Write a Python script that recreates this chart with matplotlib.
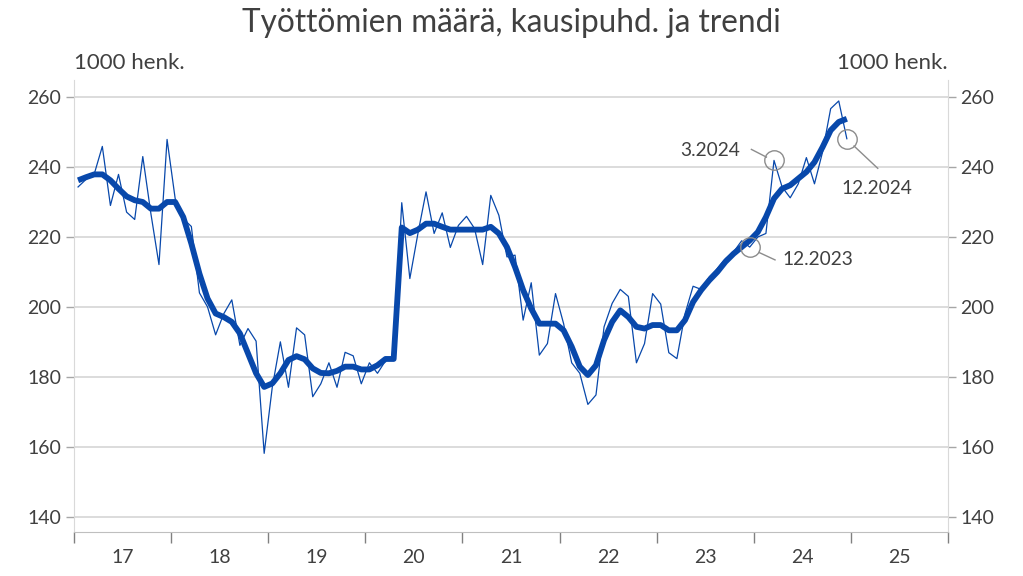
import numpy as np
import matplotlib
matplotlib.use("Agg")
import matplotlib.pyplot as plt
import matplotlib.transforms as mtransforms

plt.rcParams['font.family'] = ['Lato', 'DejaVu Sans']

# Kuukausiaineisto 1.2017 - 12.2024 (1000 henk.)
start_year = 2017
kausipuhd = [234.3, 236.5, 238.0, 245.9, 229.0, 237.9, 227.1, 225.0, 243.0, 226.7, 212.1, 247.9,
             231.0, 225.2, 223.0, 204.0, 200.0, 192.0, 198.0, 202.0, 189.0, 193.8, 190.2, 158.1,
             177.0, 190.0, 177.0, 194.0, 192.0, 174.3, 178.0, 184.0, 177.0, 187.0, 186.0, 178.0,
             184.0, 181.0, 184.6, 185.6, 229.8, 208.1, 221.0, 232.9, 221.0, 226.9, 217.0, 223.3,
             225.9, 222.4, 212.1, 231.9, 226.2, 214.3, 214.8, 196.2, 206.9, 186.2, 189.5, 203.8,
             195.2, 184.0, 181.0, 172.1, 174.8, 194.3, 201.0, 205.0, 203.0, 184.0, 189.5, 203.8,
             200.8, 186.9, 185.2, 198.0, 205.9, 205.0, 208.6, 211.0, 213.8, 215.7, 218.9, 217.1,
             220.0, 221.0, 241.9, 234.3, 231.2, 235.2, 242.7, 235.2, 244.3, 256.7, 258.9, 248.1]
trendi = [236.2, 237.1, 237.9, 237.9, 236.2, 233.8, 231.6, 230.5, 230.0, 228.1, 228.1, 230.0,
          230.0, 225.7, 218.1, 209.5, 202.4, 198.1, 197.1, 195.7, 192.4, 186.7, 181.0, 177.1,
          178.1, 181.0, 184.8, 185.9, 185.0, 182.4, 181.1, 181.0, 181.7, 182.9, 182.9, 182.1,
          182.1, 183.3, 185.1, 185.1, 222.7, 221.1, 222.1, 223.8, 223.8, 222.9, 222.1, 222.1,
          222.1, 222.1, 222.1, 222.9, 221.0, 217.1, 211.4, 204.8, 199.5, 195.2, 195.2, 195.2,
          193.3, 188.6, 182.9, 180.5, 183.3, 190.5, 195.7, 199.0, 197.1, 194.3, 193.8, 194.8,
          194.8, 193.3, 193.3, 196.2, 201.4, 204.8, 207.6, 210.0, 212.9, 215.2, 217.1, 219.0,
          221.4, 225.7, 231.0, 233.8, 234.8, 236.7, 238.6, 241.4, 245.7, 250.5, 252.9, 253.8]
year_labels = ['17', '18', '19', '20', '21', '22', '23', '24', '25']

# huomiot: (kuukauden indeksi, teksti, viivan alku, viivan loppu, tekstin paikka, tasaus) pikseleinä
huomiot = [(83, '12.2023', (9.6, -5.5), (25.3, -12.8), (32.6, -12.8), 'left'),
           (86, '3.2024', (-7.6, 3.3), (-22.6, 11.0), (-33.6, 9.6), 'right'),
           (95, '12.2024', (7.2, -7.3), (30.9, -29.6), (-5.8, -49.6), 'left')]

blue = '#0848ab'
text_col = '#404040'
grid_col = '#d9d9d9'

x = start_year + (np.arange(len(kausipuhd)) + 0.5) / 12

fig = plt.figure(figsize=(10.23, 5.76), dpi=100)
ax = fig.add_axes([74 / 1023, 44 / 576, 874 / 1023, 452 / 576])

ax.plot(x, kausipuhd, color=blue, lw=0.9, zorder=3)
ax.plot(x, trendi, color=blue, lw=4.2, solid_capstyle='butt', zorder=4)

ax.set_xlim(start_year, start_year + len(year_labels))
ax.set_ylim(135.6, 264.9)

ax.set_yticks(np.arange(140, 261, 20))
ax.yaxis.grid(True, color=grid_col, lw=1.3)
ax.set_axisbelow(True)
ax.tick_params(axis='y', which='both', left=True, right=True, labelleft=True, labelright=True,
               length=6, width=1, color='#a6a6a6', labelsize=14, labelcolor=text_col, pad=3)

ax.set_xticks(np.arange(start_year, start_year + len(year_labels) + 1))
ax.set_xticklabels([])
ax.set_xticks(np.arange(len(year_labels)) + start_year + 0.5, minor=True)
ax.set_xticklabels(year_labels, minor=True)
ax.tick_params(axis='x', which='major', length=8, width=1, color='#808080', direction='out')
ax.tick_params(axis='x', which='minor', length=0, labelsize=14, labelcolor=text_col, pad=12)

for side in ['left', 'right']:
    ax.spines[side].set_color(grid_col)
ax.spines['bottom'].set_color('#bfbfbf')
ax.spines['top'].set_visible(False)

fig.text(0.5, 1 - 23 / 576, 'Työttömien määrä, kausipuhd. ja trendi', ha='center', va='center',
         fontsize=22.7, color=text_col)
fig.text(74 / 1023, 1 - 63 / 576, '1000 henk.', ha='left', va='center', fontsize=16, color=text_col)
fig.text(948 / 1023, 1 - 63 / 576, '1000 henk.', ha='right', va='center', fontsize=16, color=text_col)

for idx, label, p0, p1, pt, ha in huomiot:
    tr = fig.dpi_scale_trans + mtransforms.ScaledTranslation(x[idx], kausipuhd[idx], ax.transData)
    ax.plot([0], [0], marker='o', ms=14, mfc='none', mec='#8c8c8c', mew=1.0,
            transform=tr, clip_on=False, zorder=5)
    ax.plot([p0[0] / 100, p1[0] / 100], [p0[1] / 100, p1[1] / 100], color='#8c8c8c', lw=1.0,
            transform=tr, clip_on=False, zorder=5)
    ax.text(pt[0] / 100, pt[1] / 100, label, transform=tr, ha=ha, va='center',
            fontsize=13.8, color=text_col)

fig.savefig('out.png', dpi=100)
